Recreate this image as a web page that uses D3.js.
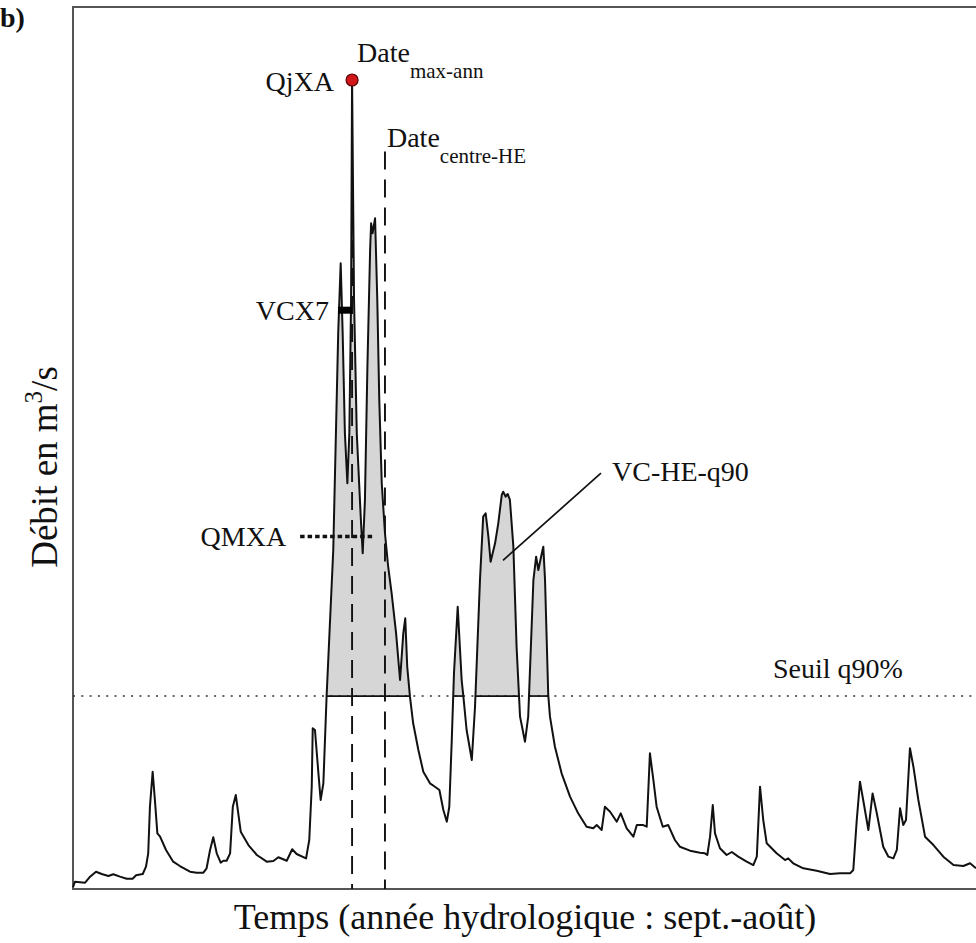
<!DOCTYPE html>
<html><head><meta charset="utf-8">
<script src="https://cdn.jsdelivr.net/npm/d3@7"></script>
<style>body{margin:0;background:#fff}svg{display:block}</style>
</head><body><svg id="c" width="976" height="943"></svg>
<script>
// Hydrological year: day index (0 = 1 Sept) and daily discharge (m3/s, arbitrary units)
const days = [0,0.8,4.9,6.9,9.3,11.6,14.3,16.3,19.0,21.7,24.1,25.5,28.2,29.5,30.4,31.1,32.2,33.1,34.1,35.2,37.6,40.5,43.2,47.3,50.0,52.7,54.0,55.4,56.7,58.1,59.7,60.8,62.1,63.5,64.6,65.8,66.8,67.8,70.9,74.3,78.3,81.0,83.0,86.4,88.6,90.4,94.2,95.5,96.5,96.9,97.8,99.2,100.1,101.2,102.5,105.2,107.2,108.2,109.0,109.9,110.9,111.7,112.4,112.8,113.6,114.7,116.3,117.1,118.0,119.0,120.1,120.5,121.1,122.1,123.0,123.8,124.8,126.1,127.4,128.8,130.6,132.2,133.5,134.3,135.1,136.2,137.5,139.6,141.6,144.3,146.3,148.1,149.7,151.1,152.1,153.1,154.0,155.5,157.1,157.8,159.1,161.2,162.5,164.5,165.8,166.8,167.9,168.8,170.6,171.9,173.3,173.9,174.9,175.7,176.6,178.0,179.3,180.7,182.7,184.0,186.1,187.2,188.1,189.5,190.1,190.8,192.1,192.8,194.8,197.5,200.9,204.2,207.6,210.3,211.7,213.7,215.0,217.1,219.8,221.4,223.8,226.5,227.9,230.5,231.9,233.2,234.6,235.9,238.4,240.6,243.3,245.3,249.4,253.4,255.4,256.4,257.5,258.6,259.5,261.5,264.2,266.3,268.9,272.3,275.0,276.4,277.7,279.0,280.4,284.4,287.8,289.1,291.1,295.2,300.6,306.0,310.0,314.1,315.4,316.8,318.1,319.4,321.5,323.2,324.9,327.5,329.6,331.6,333.0,334.3,335.6,336.7,338.3,339.7,341.7,344.4,347.8,351.8,355.9,359.9,362.6,365.0];
const flow = [0.2,0.83,0.72,1.40,1.96,1.70,1.48,1.67,1.40,1.17,1.17,1.56,1.70,2.53,4.05,9.34,13.31,10.10,6.32,5.94,4.43,3.10,2.61,1.96,1.85,1.85,2.35,4.43,5.87,4.05,2.99,3.21,3.21,4.05,9.34,10.67,8.59,6.50,4.99,3.86,3.10,3.18,3.60,3.21,4.51,3.97,3.48,5.56,11.61,18.24,18.05,13.13,10.10,11.99,21.83,38.48,63.11,71.02,63.11,51.76,46.05,51.76,66.86,91.83,66.86,51.76,42.26,38.11,44.16,59.29,72.56,75.56,74.43,76.13,66.86,55.51,46.05,40.38,36.58,33.56,29.02,23.72,29.02,30.73,25.23,21.83,18.81,15.78,13.31,11.99,11.61,11.24,8.97,7.64,9.34,16.91,24.52,32.04,23.72,21.83,18.05,14.64,20.69,35.07,42.26,42.65,39.99,37.15,39.24,41.51,44.72,45.10,44.53,44.84,44.16,38.86,27.50,19.56,16.72,19.56,35.07,37.72,36.21,38.11,38.86,35.07,22.02,19.56,16.15,13.13,10.48,8.59,7.07,6.89,7.26,6.70,9.34,8.77,7.64,8.59,6.89,5.94,7.26,7.26,7.07,15.40,12.37,9.34,7.07,7.26,5.56,4.80,4.35,4.12,4.05,3.86,5.94,9.53,6.32,4.62,3.86,4.20,3.67,3.10,2.72,3.67,11.61,7.83,5.19,4.05,3.29,3.48,2.92,2.35,2.08,1.70,1.78,1.78,2.16,7.83,12.18,10.10,6.70,10.85,8.59,4.80,3.67,3.48,4.43,9.16,7.26,7.83,15.97,13.88,10.10,5.94,4.99,3.67,2.72,2.61,2.92,2.35];

const seuilQ90 = 21.9;          // threshold q90%
const dateMaxAnn = 112.8;       // day of annual maximum
const dateCentreHE = 126.1;     // day of centre of high-flow episode
const qjxa = 91.83;             // annual max daily flow
const qmxa = 40.0;              // annual max monthly flow
const qmxaSpan = [91.8, 122.1];
const vcx7 = 65.7;              // max 7-day volume
const vcx7Span = [107.1, 112.8];
const leader = [[213.4, 47.2], [173.8, 37.3]];

const x = d3.scaleLinear().domain([0, 365]).range([73, 976]);
const y = d3.scaleLinear().domain([0, 100]).range([889, 8]);
const svg = d3.select("#c");
const serif = "'Liberation Serif','DejaVu Serif',serif";

const data = days.map((d, i) => ({day: d, flow: flow[i]}));

// Build above-threshold episodes with interpolated crossings
const episodes = [];
let cur = null;
for (let i = 0; i < data.length; i++) {
  const p = data[i];
  const above = p.flow > seuilQ90;
  if (above && !cur) {
    const q = data[i - 1];
    const t = (seuilQ90 - q.flow) / (p.flow - q.flow);
    cur = [{day: q.day + t * (p.day - q.day), flow: seuilQ90}];
  }
  if (above) cur.push(p);
  if (!above && cur) {
    const q = data[i - 1];
    const t = (seuilQ90 - q.flow) / (p.flow - q.flow);
    cur.push({day: q.day + t * (p.day - q.day), flow: seuilQ90});
    episodes.push(cur); cur = null;
  }
}

const area = d3.area().x(d => x(d.day)).y0(y(seuilQ90)).y1(d => y(d.flow));
svg.append("g").selectAll("path").data(episodes).join("path")
  .attr("d", area).attr("fill", "#d6d6d6").attr("stroke", "none");

// frame
svg.append("rect").attr("x", x(0)).attr("y", y(100) - 1).attr("width", 910).attr("height", y(0) - y(100) + 1)
  .attr("fill", "none").attr("stroke", "#555").attr("stroke-width", 2);

// threshold dotted line
svg.append("line").attr("x1", x(0)).attr("x2", x(365)).attr("y1", y(seuilQ90)).attr("y2", y(seuilQ90))
  .attr("stroke", "#333").attr("stroke-width", 1.6).attr("stroke-dasharray", "2,6.3");
// solid threshold base under episodes
svg.append("g").selectAll("line").data(episodes).join("line")
  .attr("x1", e => x(e[0].day)).attr("x2", e => x(e[e.length - 1].day))
  .attr("y1", y(seuilQ90)).attr("y2", y(seuilQ90))
  .attr("stroke", "#111").attr("stroke-width", 1.7);

// date dashed lines
svg.append("line").attr("x1", x(dateMaxAnn)).attr("x2", x(dateMaxAnn)).attr("y1", y(qjxa) + 20).attr("y2", y(0))
  .attr("stroke", "#111").attr("stroke-width", 1.9).attr("stroke-dasharray", "18,10");
svg.append("line").attr("x1", x(dateCentreHE)).attr("x2", x(dateCentreHE)).attr("y1", y(83.7)).attr("y2", y(0))
  .attr("stroke", "#111").attr("stroke-width", 1.9).attr("stroke-dasharray", "18,10");

// hydrograph
const line = d3.line().x(d => x(d.day)).y(d => y(d.flow));
svg.append("path").datum(data).attr("d", line).attr("fill", "none")
  .attr("stroke", "#111").attr("stroke-width", 2).attr("stroke-linejoin", "round");

// QMXA dotted
svg.append("line").attr("x1", x(qmxaSpan[0])).attr("x2", x(qmxaSpan[1])).attr("y1", y(qmxa)).attr("y2", y(qmxa))
  .attr("stroke", "#111").attr("stroke-width", 3.5).attr("stroke-dasharray", "4.5,3");
// VCX7 bar
svg.append("rect").attr("x", x(vcx7Span[0])).attr("width", x(vcx7Span[1]) - x(vcx7Span[0]))
  .attr("y", y(vcx7) - 3.5).attr("height", 7).attr("fill", "#000");
// leader line
svg.append("line").attr("x1", x(leader[0][0])).attr("y1", y(leader[0][1]))
  .attr("x2", x(leader[1][0])).attr("y2", y(leader[1][1])).attr("stroke", "#111").attr("stroke-width", 1.7);

// QjXA point
svg.append("circle").attr("cx", x(dateMaxAnn)).attr("cy", y(qjxa)).attr("r", 6)
  .attr("fill", "#d01818").attr("stroke", "#5a0000").attr("stroke-width", 1.2);

// labels
const lab = (t, px, py, anchor, size) => svg.append("text").attr("x", px).attr("y", py)
  .attr("text-anchor", anchor || "start").attr("font-family", serif).attr("font-size", size || 28)
  .attr("fill", "#111").text(t);

lab("QjXA", x(dateMaxAnn) - 18, y(qjxa) + 11, "end");
const t1 = lab("Date", x(dateMaxAnn) + 5, 62);
t1.append("tspan").attr("font-size", 21).attr("dy", 16).text("max-ann");
const t2 = lab("Date", x(dateCentreHE) + 2, 147);
t2.append("tspan").attr("font-size", 21).attr("dy", 16).text("centre-HE");
lab("VCX7", x(vcx7Span[0]) - 9, y(vcx7) + 10, "end");
lab("QMXA", x(qmxaSpan[0]) - 14, y(qmxa) + 9, "end");
lab("VC-HE-q90", 612, 481);
lab("Seuil q90%", 773, 678);

svg.append("text").attr("x", 525).attr("y", 929).attr("text-anchor", "middle")
  .attr("font-family", serif).attr("font-size", 36).attr("fill", "#111")
  .text("Temps (année hydrologique : sept.-août)");

const yl = svg.append("text").attr("transform", "translate(57,467) rotate(-90)").attr("text-anchor", "middle")
  .attr("font-family", serif).attr("font-size", 37).attr("fill", "#111");
yl.append("tspan").text("Débit en m");
yl.append("tspan").attr("font-size", 25).attr("dy", -15).text("3");
yl.append("tspan").attr("dy", 15).text("/s");

svg.append("text").attr("x", 0).attr("y", 27).attr("font-family", serif).attr("font-weight", "bold")
  .attr("font-size", 28).attr("fill", "#111").text("b)");
</script>
</body></html>
